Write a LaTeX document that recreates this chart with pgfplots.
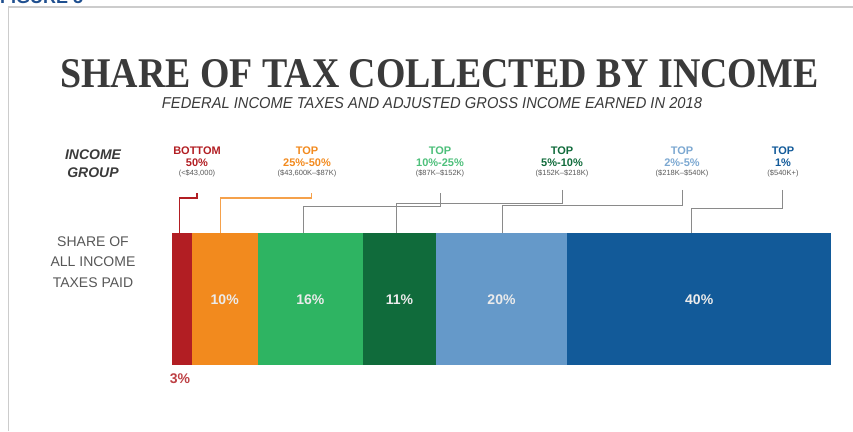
\documentclass[border=0pt]{standalone}
\usepackage{pgfplots}
\pgfplotsset{compat=1.18}
\usepackage{fontspec}
\setmainfont{Liberation Sans}
\newfontfamily\titlefont{Liberation Serif}
\usepackage{graphicx}
\definecolor{cRed}{HTML}{B21E23}
\definecolor{cOrange}{HTML}{F28A1E}
\definecolor{cLGreen}{HTML}{2EB462}
\definecolor{cDGreen}{HTML}{106B3B}
\definecolor{cLBlue}{HTML}{6599C9}
\definecolor{cDBlue}{HTML}{125A99}
\definecolor{cTxt}{HTML}{3A3A3A}
\definecolor{cFig}{HTML}{1F4F8F}
\definecolor{cLine}{HTML}{8A8A8A}
\begin{document}
\begin{tikzpicture}[x=1pt,y=1pt]
\useasboundingbox (0,0) rectangle (853,431);
\draw[black!20, line width=1.2pt] (8.5,0) -- (8.5,424) -- (853,424);
\node[anchor=base west, inner sep=0, text=cFig, font=\bfseries\fontsize{18}{18}\selectfont] at (0,427) {FIGURE 5};
\node[anchor=base west, inner sep=0, text=cTxt] at (60,343) {\resizebox{758pt}{28pt}{\titlefont\bfseries SHARE OF TAX COLLECTED BY INCOME}};
\node[anchor=base, inner sep=0, text=cTxt] at (432,322) {\resizebox{540pt}{11pt}{\itshape FEDERAL INCOME TAXES AND ADJUSTED GROSS INCOME EARNED IN 2018}};
% left labels
\node[anchor=base, inner sep=0, text=cTxt, font=\bfseries\itshape\fontsize{14}{14}\selectfont] at (93,271.5) {INCOME};
\node[anchor=base, inner sep=0, text=cTxt, font=\bfseries\itshape\fontsize{14}{14}\selectfont] at (93,253.5) {GROUP};
\node[anchor=base, inner sep=0, text=cTxt!85, font=\fontsize{14}{14}\selectfont] at (93,184) {SHARE OF};
\node[anchor=base, inner sep=0, text=cTxt!85, font=\fontsize{14}{14}\selectfont] at (93,164) {ALL INCOME};
\node[anchor=base, inner sep=0, text=cTxt!85, font=\fontsize{14}{14}\selectfont] at (93,143) {TAXES PAID};
% group labels
\tikzset{grp/.style={anchor=base, inner sep=0, font=\bfseries\fontsize{11}{11}\selectfont},
         rng/.style={anchor=base, inner sep=0, text=black!65, font=\fontsize{7.5}{7.5}\selectfont},
         val/.style={anchor=center, inner sep=0, text=white!92!black, font=\bfseries\fontsize{14}{14}\selectfont}}
\node[grp, text=cRed] at (197,276.5) {BOTTOM};
\node[grp, text=cRed] at (197,264) {50\%};
\node[rng] at (197,255) {(<\$43,000)};
\node[grp, text=cOrange] at (307,276.5) {TOP};
\node[grp, text=cOrange] at (307,264) {25\%-50\%};
\node[rng] at (307,255) {(\$43,600K--\$87K)};
\node[grp, text=cLGreen!85] at (440,276.5) {TOP};
\node[grp, text=cLGreen!85] at (440,264) {10\%-25\%};
\node[rng] at (440,255) {(\$87K--\$152K)};
\node[grp, text=cDGreen] at (562,276.5) {TOP};
\node[grp, text=cDGreen] at (562,264) {5\%-10\%};
\node[rng] at (562,255) {(\$152K--\$218K)};
\node[grp, text=cLBlue!85] at (682,276.5) {TOP};
\node[grp, text=cLBlue!85] at (682,264) {2\%-5\%};
\node[rng] at (682,255) {(\$218K--\$540K)};
\node[grp, text=cDBlue] at (783,276.5) {TOP};
\node[grp, text=cDBlue] at (783,264) {1\%};
\node[rng] at (783,255) {(\$540K+)};
\node[anchor=base, inner sep=0, text=cRed!85, font=\bfseries\fontsize{14}{14}\selectfont] at (180,48) {3\%};
\begin{axis}[at={(172pt,66pt)}, anchor=south west, scale only axis,
  width=659pt, height=132pt, xmin=0, xmax=100, ymin=0, ymax=1,
  hide axis, clip=false, xbar stacked, bar width=132pt, bar shift=0pt]
\addplot[fill=cRed, draw=none] coordinates {(3,0.5)};
\addplot[fill=cOrange, draw=none] coordinates {(10,0.5)};
\addplot[fill=cLGreen, draw=none] coordinates {(16,0.5)};
\addplot[fill=cDGreen, draw=none] coordinates {(11,0.5)};
\addplot[fill=cLBlue, draw=none] coordinates {(20,0.5)};
\addplot[fill=cDBlue, draw=none] coordinates {(40,0.5)};
% connectors
\draw[cRed, line width=1.1pt] (axis cs:3.79,1.303) -- (axis cs:3.79,1.265) -- (axis cs:1.2,1.265) -- (axis cs:1.2,1);
\draw[cOrange!80, line width=1.1pt] (axis cs:21.2,1.303) -- (axis cs:21.2,1.265) -- (axis cs:7.3,1.265) -- (axis cs:7.3,1);
\draw[cLine, line width=1pt] (axis cs:40.7,1.303) -- (axis cs:40.7,1.197) -- (axis cs:19.9,1.197) -- (axis cs:19.9,1);
\draw[cLine, line width=1pt] (axis cs:59.2,1.326) -- (axis cs:59.2,1.227) -- (axis cs:34.1,1.227) -- (axis cs:34.1,1);
\draw[cLine, line width=1pt] (axis cs:77.4,1.326) -- (axis cs:77.4,1.205) -- (axis cs:50.1,1.205) -- (axis cs:50.1,1);
\draw[cLine, line width=1pt] (axis cs:92.7,1.326) -- (axis cs:92.7,1.182) -- (axis cs:78.9,1.182) -- (axis cs:78.9,1);
\end{axis}
% values on the bars
\node[val] at (224.7,131) {10\%};
\node[val] at (310.4,131) {16\%};
\node[val] at (399.4,131) {11\%};
\node[val] at (501.5,131) {20\%};
\node[val] at (699.2,131) {40\%};
\end{tikzpicture}
\end{document}
